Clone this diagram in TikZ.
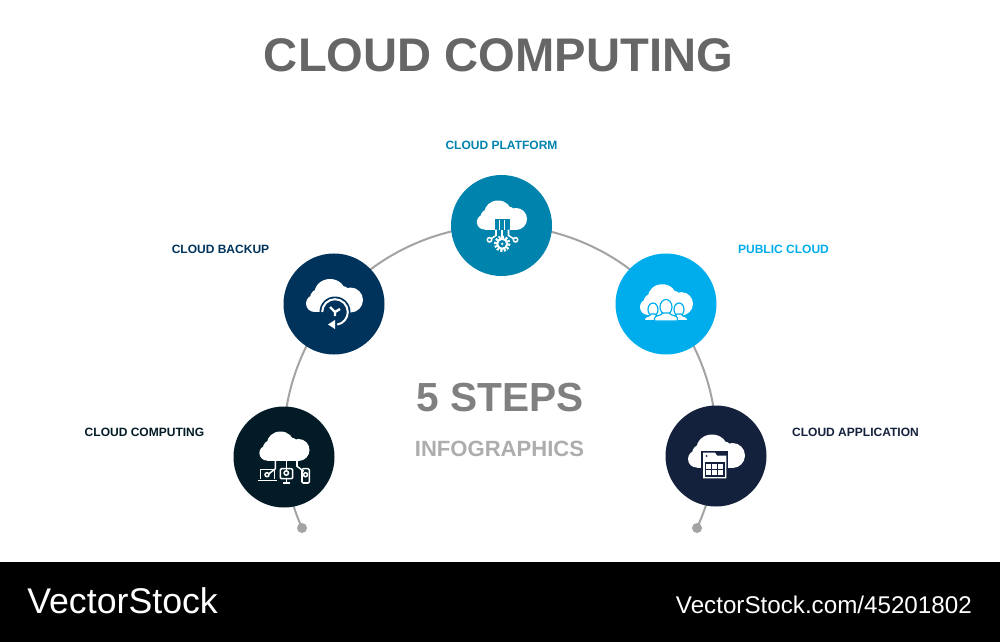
\documentclass[tikz,border=0pt]{standalone}
\usepackage{fontspec}
\usetikzlibrary{backgrounds}
\setmainfont{Liberation Sans}
\definecolor{computingcol}{HTML}{021B26}
\definecolor{backupcol}{HTML}{00335C}
\definecolor{platformcol}{HTML}{0083AD}
\definecolor{publiccol}{HTML}{00ADEC}
\definecolor{applicationcol}{HTML}{14213D}
\definecolor{arccol}{HTML}{A3A3A3}
\begin{document}
\begin{tikzpicture}[
		x=0.25mm, y=-0.25mm,
		stepcircle/.style={circle, minimum size=25.25mm, inner sep=0pt},
		enddot/.style={circle, fill=arccol, minimum size=2.5mm, inner sep=0pt},
		steplabel/.style={inner sep=0pt, font=\fontsize{8.55}{10}\selectfont\bfseries},
		arcline/.style={draw=arccol, line width=0.5mm, looseness=0.88},
		iconline/.style={draw=white, line width=0.38mm},
		cloudicon/.pic={
			\fill[white] (-19.5,-0.5) circle (8.5) (-4,-11) ellipse (15.5 and 14) (16.5,-4) circle (12.5) (8,-9) circle (9) (-15,-6) circle (9);
			\fill[white] (-19,-5) rectangle (17,8);
		}
	]
	\useasboundingbox (0,0) rectangle (1000,642);
	\fill[black] (0,562) rectangle (1000,642);

	\node[font=\fontsize{33.55}{40}\selectfont\bfseries, text=black!60, inner sep=0pt] (title) at (498.5,55) {CLOUD COMPUTING};
	\node[font=\fontsize{28.9}{34}\selectfont\bfseries, text=black!50, inner sep=0pt] (steps) at (500,398) {5 STEPS};
	\node[font=\fontsize{15.7}{18}\selectfont\bfseries, text=black!32, inner sep=0pt] (infographics) at (499.5,449) {INFOGRAPHICS};
	\node[font=\fontsize{25.4}{30}\selectfont, text=white, anchor=west, inner sep=0pt] (logo) at (27,601) {VectorStock};
	\node[font=\fontsize{17.2}{20}\selectfont, text=white, anchor=east, inner sep=0pt] (url) at (972,605) {VectorStock.com/45201802};

	\node[stepcircle, fill=computingcol] (computing) at (284,457) {};
	\node[stepcircle, fill=backupcol] (backup) at (334,304) {};
	\node[stepcircle, fill=platformcol] (platform) at (501.5,225.5) {};
	\node[stepcircle, fill=publiccol] (public) at (666,304) {};
	\node[stepcircle, fill=applicationcol] (application) at (716,456) {};
	\node[enddot] (dotleft) at (302,528) {};
	\node[enddot] (dotright) at (697,528) {};

	\begin{scope}[on background layer]
		\draw[arcline] (dotleft.center) to[bend left=9.75] (computing.center);
		\draw[arcline] (computing.center) to[bend left=21.85] (backup.center);
		\draw[arcline] (backup.center) to[bend left=25.25] (platform.center);
		\draw[arcline] (platform.center) to[bend left=25.25] (public.center);
		\draw[arcline] (public.center) to[bend left=21.85] (application.center);
		\draw[arcline] (application.center) to[bend left=9.75] (dotright.center);
	\end{scope}

	\node[steplabel, text=computingcol] (computinglabel) at (144.5,432) {CLOUD COMPUTING};
	\node[steplabel, text=backupcol] (backuplabel) at (220.5,249) {CLOUD BACKUP};
	\node[steplabel, text=platformcol] (platformlabel) at (501.5,145) {CLOUD PLATFORM};
	\node[steplabel, text=publiccol] (publiclabel) at (783.5,249) {PUBLIC CLOUD};
	\node[steplabel, text=applicationcol] (applicationlabel) at (855.5,432) {CLOUD APPLICATION};

	% computing icon
	\begin{scope}[shift={(computing)}]
		\pic[scale=0.88] at (0,-3.5) {cloudicon};
		\draw[iconline] (-8.7,3) -- (-8.7,11.7) -- (-15.3,17);
		\draw[iconline] (2.3,3) -- (2.3,13.5);
		\draw[iconline] (13,3) -- (13,9.3) -- (19.7,14.3);
		\draw[iconline] (-23.7,21.7) -- (-23.7,12.7) -- (-9.3,12.7) -- (-9.3,21.7);
		\draw[iconline] (-26.3,23.7) -- (-7,23.7);
		\draw[iconline, rounded corners=0.3mm] (-3.7,11.7) rectangle (8.7,21.7);
		\draw[iconline] (2.3,21.7) -- (2.3,26) (-1,26) -- (6,26);
		\draw[iconline, rounded corners=0.3mm] (18,11.7) rectangle (25.3,26);
		\draw[iconline] (-17,17.7) circle (2) (2.3,16) circle (2.2) (21.5,17.7) circle (2);
	\end{scope}

	% backup icon
	\begin{scope}[shift={(backup)}]
		\pic at (0,0) {cloudicon};
		\fill[backupcol] (1,8) circle (15.5);
		\draw[white, line width=0.5mm] (1,8) ++(180:12.8) arc (180:440:12.8);
		\fill[white] (-6,20.5) -- (1,16) -- (1,25) -- cycle;
		\draw[white, line width=0.6mm] (1,8) -- (-4,3) (1,8) -- (6,5) (1,8) -- (1,12);
	\end{scope}

	% platform icon
	\begin{scope}[shift={(platform)}]
		\pic[scale=0.88] at (0,-3) {cloudicon};
		\fill[platformcol] (-7,-7) rectangle (8,4);
		\draw[iconline] (-2,-6) -- (-2,4) (3,-6) -- (3,4);
		\draw[iconline] (-5.5,4) -- (-5.5,10) -- (-10,13);
		\draw[iconline] (0.7,4) -- (0.7,12);
		\draw[iconline] (7,4) -- (7,10) -- (11.7,13);
		\draw[iconline] (-12,14.3) circle (2.2) (14,14.3) circle (2.2);
		\draw[white, line width=0.7mm, dash pattern=on 0.5mm off 0.38mm] (0.7,18.3) circle (6.8);
		\draw[white, line width=0.5mm] (0.7,18.3) circle (5);
		\fill[white] (0.7,18.3) circle (1.3);
	\end{scope}

	% public icon
	\begin{scope}[shift={(public)}]
		\pic[scale=0.93] at (0,3.5) {cloudicon};
		\foreach \px in {-13,13} {
			\filldraw[fill=white, draw=publiccol, line width=0.3mm] (\px,5.5) ellipse (5 and 6.5);
			\filldraw[fill=white, draw=publiccol, line width=0.3mm] (\px-8.5,16.7) -- (\px-8.5,15) .. controls (\px-8.5,12) and (\px-3,13) .. (\px-2,10) -- (\px+2,10) .. controls (\px+3,13) and (\px+8.5,12) .. (\px+8.5,15) -- (\px+8.5,16.7) -- cycle;
		}
		\filldraw[fill=white, draw=publiccol, line width=0.3mm] (0,3) ellipse (6 and 7.5);
		\filldraw[fill=white, draw=publiccol, line width=0.3mm] (-11.5,17) -- (-11.5,14.5) .. controls (-11.5,11) and (-5,12) .. (-3,9) -- (3,9) .. controls (5,12) and (11.5,11) .. (11.5,14.5) -- (11.5,17) -- cycle;
	\end{scope}

	% application icon
	\begin{scope}[shift={(application)}]
		\pic at (0,3.5) {cloudicon};
		\fill[applicationcol] (-15,-5) rectangle (12,24);
		\fill[white] (-13,-3.3) -- (-1,-3.3) -- (1,-0.5) -- (10.3,-0.5) -- (10.3,22.3) -- (-13,22.3) -- cycle;
		\fill[applicationcol] (-11.5,6) rectangle (8.8,20.8);
		\fill[applicationcol] (-9.5,0) circle (1);
		\foreach \cx in {0,1,2} {
			\foreach \cy in {0,1} {
				\fill[white] (-10+\cx*6,7.5+\cy*6) rectangle +(5,5);
			}
		}
	\end{scope}
\end{tikzpicture}
\end{document}
